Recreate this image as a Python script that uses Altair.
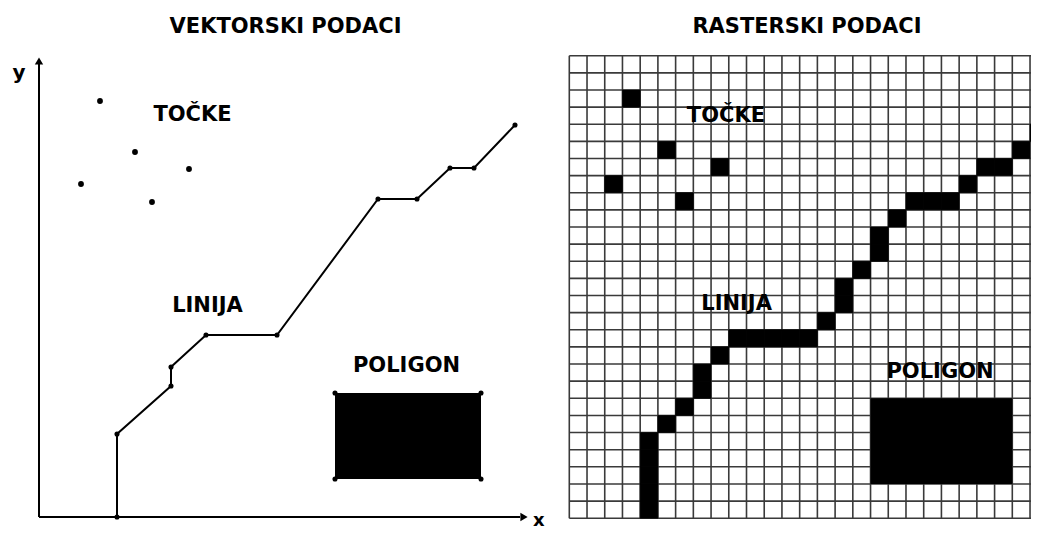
import altair as alt
import pandas as pd

FONT = "DejaVu Sans"

# ---------------- Left panel: vector data (units measured from the axis origin) -------------
tocke_x = [61, 96, 150, 42, 113]
tocke_y = [416, 365, 348, 333, 315]

linija_x = [78, 78, 132, 132, 167, 238, 339, 378, 411, 435, 476]
linija_y = [0, 83, 131, 150, 182, 182, 318, 318, 349, 349, 392]

poligon_x = [296, 442, 442, 296]
poligon_y = [38, 38, 124, 124]

axis_x_end = 489
axis_y_end = 460

vec_labels = ["VEKTORSKI PODACI", "TOČKE", "LINIJA", "POLIGON"]
vec_label_x = [246.5, 153.5, 168.5, 367.5]
vec_label_y = [490.5, 402, 211, 151]

axis_labels = ["y", "x"]
axis_label_x = [-20, 494]
axis_label_y = [438, -4]
axis_label_align = ["center", "left"]

# ---------------- Right panel: raster data (column / row index, row 0 at top) ---------------
rast_tocke_col = [3, 5, 8, 2, 6]
rast_tocke_row = [2, 5, 6, 7, 8]
rast_linija_col = [4, 4, 4, 4, 4, 5, 6, 7, 7, 8, 9, 10, 11, 12, 13, 14, 15, 15, 16, 17, 17,
                   18, 19, 20, 21, 22, 23, 24, 25, 26]
rast_linija_row = [26, 25, 24, 23, 22, 21, 20, 19, 18, 17, 16, 16, 16, 16, 16, 15, 14, 13, 12,
                   11, 10, 9, 8, 8, 8, 7, 6, 6, 5, 4]
rast_poligon_cols = [17, 25]
rast_poligon_rows = [20, 25]
grid_cols = 27
grid_rows = 27

rast_labels = ["RASTERSKI PODACI", "TOČKE", "LINIJA", "POLIGON"]
rast_label_col = [13.41, 8.84, 9.44, 20.92]
rast_label_row = [-1.675, 3.52, 14.52, 18.49]

# ================= Left chart =================
xsL = alt.Scale(domain=[-31, 516], nice=False, zero=False)
ysL = alt.Scale(domain=[-12, 509], nice=False, zero=False)

def XL(f):
    return alt.X(f, type="quantitative", scale=xsL, axis=None)

def YL(f):
    return alt.Y(f, type="quantitative", scale=ysL, axis=None)

axes_df = pd.DataFrame({"x": [0, 0], "y": [0, 0], "x2": [axis_x_end - 8, 0], "y2": [0, axis_y_end - 7]})
axis_lines = alt.Chart(axes_df).mark_rule(color="black", strokeWidth=2).encode(
    x=XL("x"), y=YL("y"), x2="x2", y2="y2")

arrow_up = alt.Chart(pd.DataFrame({"x": [0], "y": [axis_y_end - 4]})).mark_point(
    shape="triangle-up", filled=True, color="black", size=70, opacity=1).encode(x=XL("x"), y=YL("y"))
arrow_right = alt.Chart(pd.DataFrame({"x": [axis_x_end - 4], "y": [0]})).mark_point(
    shape="triangle-right", filled=True, color="black", size=70, opacity=1).encode(x=XL("x"), y=YL("y"))

y_label = alt.Chart(pd.DataFrame({"x": [axis_label_x[0]], "y": [axis_label_y[0]], "t": [axis_labels[0]]})).mark_text(
    font=FONT, fontWeight="bold", fontSize=20, color="black", baseline="alphabetic", align="center"
).encode(x=XL("x"), y=YL("y"), text="t:N")
x_label = alt.Chart(pd.DataFrame({"x": [axis_label_x[1]], "y": [axis_label_y[1]], "t": [axis_labels[1]]})).mark_text(
    font=FONT, fontWeight="bold", fontSize=18, color="black", baseline="middle", align="left"
).encode(x=XL("x"), y=YL("y"), text="t:N")

tocke_df = pd.DataFrame({"x": tocke_x, "y": tocke_y})
tocke = alt.Chart(tocke_df).mark_circle(color="black", size=34, opacity=1).encode(x=XL("x"), y=YL("y"))

lin_df = pd.DataFrame({"x": linija_x, "y": linija_y, "o": list(range(len(linija_x)))})
lin = alt.Chart(lin_df).mark_line(color="black", strokeWidth=2).encode(
    x=XL("x"), y=YL("y"), order="o:Q")
lin_pts = alt.Chart(lin_df).mark_circle(color="black", size=26, opacity=1).encode(x=XL("x"), y=YL("y"))

poly_rect = alt.Chart(pd.DataFrame({"x": [min(poligon_x)], "x2": [max(poligon_x)],
                                    "y": [min(poligon_y)], "y2": [max(poligon_y)]})).mark_rect(
    color="black").encode(x=XL("x"), x2="x2", y=YL("y"), y2="y2")
poly_pts = alt.Chart(pd.DataFrame({"x": poligon_x, "y": poligon_y})).mark_circle(
    color="black", size=26, opacity=1).encode(x=XL("x"), y=YL("y"))

vec_text = alt.Chart(pd.DataFrame({"x": vec_label_x, "y": vec_label_y, "t": vec_labels})).mark_text(
    font=FONT, fontWeight="bold", fontSize=21, color="black", baseline="middle", align="center"
).encode(x=XL("x"), y=YL("y"), text="t:N")

left = alt.layer(axis_lines, arrow_up, arrow_right, lin, lin_pts, tocke, poly_rect, poly_pts,
                 vec_text, y_label, x_label).properties(width=547, height=521)

# ================= Right chart =================
xsR = alt.Scale(domain=[-0.807, 26.055], nice=False, zero=False)
ysR = alt.Scale(domain=[-2.785, 27.63], nice=False, zero=False, reverse=True)

def XR(f):
    return alt.X(f, type="quantitative", scale=xsR, axis=None)

def YR(f):
    return alt.Y(f, type="quantitative", scale=ysR, axis=None)

vgrid = pd.DataFrame({"c": list(range(grid_cols)), "r": [0] * grid_cols, "r2": [grid_rows] * grid_cols})
hgrid = pd.DataFrame({"r": list(range(grid_rows + 1)), "c": [0] * (grid_rows + 1),
                      "c2": [grid_cols] * (grid_rows + 1)})
GRID_COLOR = "#3a3a3a"
vlines = alt.Chart(vgrid).mark_rule(color=GRID_COLOR, strokeWidth=1.6, clip=True).encode(
    x=XR("c"), y=YR("r"), y2="r2")
hlines = alt.Chart(hgrid).mark_rule(color=GRID_COLOR, strokeWidth=1.6, clip=True).encode(
    y=YR("r"), x=XR("c"), x2="c2")

cells_df = pd.DataFrame({"c": rast_tocke_col + rast_linija_col,
                         "r": rast_tocke_row + rast_linija_row})
cells = alt.Chart(cells_df).transform_calculate(
    c2="datum.c + 1", r2="datum.r + 1"
).mark_rect(color="black", clip=True, stroke="black", strokeWidth=0.6).encode(
    x=XR("c"), x2="c2:Q", y=YR("r"), y2="r2:Q")

poly_cells = alt.Chart(pd.DataFrame({"c": [rast_poligon_cols[0]], "c2": [rast_poligon_cols[1]],
                                     "r": [rast_poligon_rows[0]], "r2": [rast_poligon_rows[1]]})).mark_rect(
    color="black").encode(x=XR("c"), x2="c2", y=YR("r"), y2="r2")

rast_text = alt.Chart(pd.DataFrame({"c": rast_label_col, "r": rast_label_row, "t": rast_labels})).mark_text(
    font=FONT, fontWeight="bold", fontSize=21, color="black", baseline="middle", align="center"
).encode(x=XR("c"), y=YR("r"), text="t:N")

right = alt.layer(vlines, hlines, cells, poly_cells, rast_text).properties(width=476, height=521)

chart = alt.hconcat(left, right, spacing=0).properties(padding=0, background="white").configure_view(stroke=None)

chart.save("out.html", embed_options={"renderer": "svg", "actions": False})
